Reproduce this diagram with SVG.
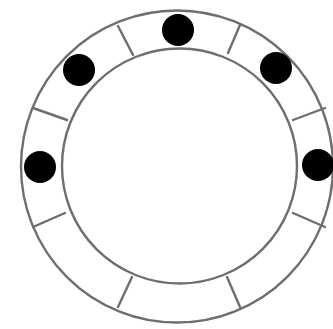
<svg xmlns="http://www.w3.org/2000/svg" width="333" height="329" viewBox="0 0 333 329">
<style>
.ring{fill:none;stroke:#6e6e6e;stroke-width:2.4}
.div{stroke:#6e6e6e;stroke-width:2.4;stroke-linecap:round}
.dot{fill:#000}
</style>
<rect width="333" height="329" fill="#fff"/>
<g id="ring">
<circle class="ring" cx="177" cy="166.5" r="156"/>
<circle class="ring" cx="179.5" cy="166" r="117.5"/>
</g>
<g id="dividers">
<line class="div" x1="118" y1="26" x2="133" y2="55"/>
<line class="div" x1="240" y1="25" x2="228" y2="53"/>
<line class="div" x1="33" y1="108" x2="67" y2="120"/>
<line class="div" x1="325" y1="108" x2="293" y2="120"/>
<line class="div" x1="33" y1="227" x2="65" y2="213"/>
<line class="div" x1="325" y1="227" x2="293" y2="213"/>
<line class="div" x1="118" y1="307" x2="132" y2="277"/>
<line class="div" x1="240" y1="307" x2="227" y2="277"/>
</g>
<g id="dots">
<circle class="dot" cx="178" cy="30" r="16"/>
<circle class="dot" cx="79" cy="70" r="16"/>
<circle class="dot" cx="276" cy="68" r="16"/>
<circle class="dot" cx="40" cy="167" r="16"/>
<circle class="dot" cx="318" cy="165" r="16"/>
</g>
</svg>
